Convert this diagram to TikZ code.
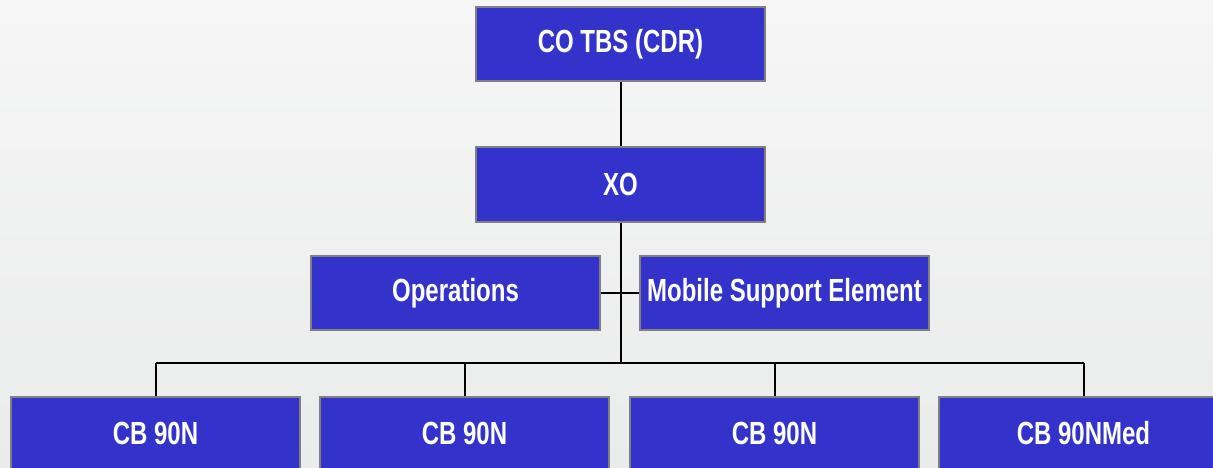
\documentclass[tikz,border=0pt]{standalone}
\usepackage{fontspec}
\newfontfamily\boxfont{Liberation Sans}[FakeStretch=0.75]
\definecolor{boxblue}{HTML}{3333CC}
\definecolor{boxedge}{HTML}{808080}
\definecolor{bgtop}{HTML}{F6F6F6}
\definecolor{bgbot}{HTML}{EAEBEB}
\begin{document}
\begin{tikzpicture}[x=1pt,y=-1pt,
  orgbox/.style={draw=boxedge, line width=2pt, fill=boxblue, minimum width=289pt, minimum height=74pt,
    inner sep=0pt, text=white, font=\boxfont\bfseries\fontsize{32}{36}\selectfont},
  link/.style={line width=2pt, black}]
\useasboundingbox (0,0) rectangle (1213,468);
\clip (0,0) rectangle (1213,468);
\shade[top color=bgtop, bottom color=bgbot] (0,0) rectangle (1213,468);
\node[orgbox] (cdr) at (620.5,44) {CO TBS (CDR)};
\node[orgbox] (xo) at (620.5,184.5) {XO};
\node[orgbox] (ops) at (455.5,293) {Operations};
\node[orgbox] (mse) at (784.5,293) {Mobile Support Element};
\node[orgbox] (cb1) at (155.5,433.5) {CB 90N};
\node[orgbox] (cb2) at (464.5,433.5) {CB 90N};
\node[orgbox] (cb3) at (774.5,433.5) {CB 90N};
\node[orgbox] (cb4) at (1083.5,433.5) {CB 90NMed};
\coordinate (hub) at (620.5,363);
\coordinate (hl) at (155.5,363);
\coordinate (hr) at (1083.5,363);
\draw[link] (cdr.south) -- (xo.north);
\draw[link] (xo.south) -- (hub);
\draw[link] (ops.east) -- (mse.west);
\draw[link] (hl) -- (hr);
\draw[link] (hl) -- (cb1.north);
\draw[link] (cb2.north |- hub) -- (cb2.north);
\draw[link] (cb3.north |- hub) -- (cb3.north);
\draw[link] (hr) -- (cb4.north);
\end{tikzpicture}
\end{document}
